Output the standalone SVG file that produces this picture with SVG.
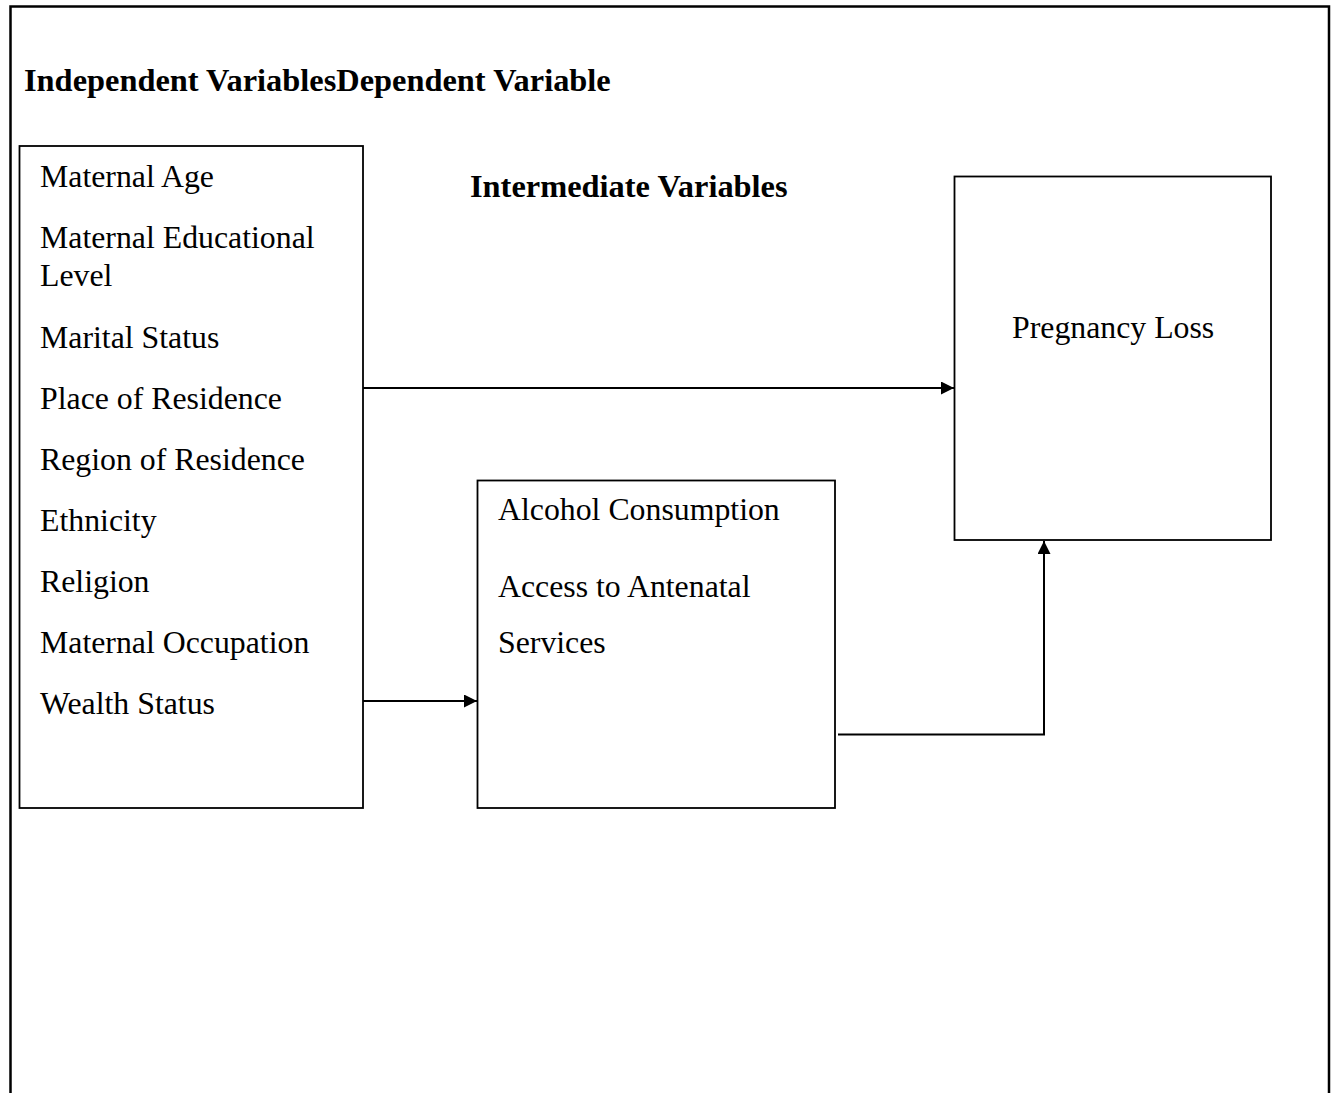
<svg xmlns="http://www.w3.org/2000/svg" width="1331" height="1093" viewBox="0 0 1331 1093">
<style>
text{font-family:"Liberation Serif","Times New Roman",serif;font-size:31.8px;fill:#000}
.b{font-weight:bold;font-size:32.4px}
.box{fill:#fff;stroke:#000;stroke-width:1.8}
.c{fill:none;stroke:#000;stroke-width:2}
</style>
<defs>
<marker id="ah" viewBox="0 0 10 10" refX="10" refY="5" markerWidth="15" markerHeight="13" markerUnits="userSpaceOnUse" orient="auto"><path d="M0,0 L10,5 L0,10 z" fill="#000"/></marker>
</defs>
<rect width="1331" height="1093" fill="#fff"/>
<path d="M10.5,1093 V6.5 H1329 V1093" fill="none" stroke="#000" stroke-width="2.5"/>
<text class="b" x="24" y="91">Independent VariablesDependent Variable</text>
<text class="b" x="470" y="197">Intermediate Variables</text>
<g id="independent">
<rect class="box" x="19.5" y="146" width="343.5" height="662"/>
<text x="40" y="187">Maternal Age</text>
<text x="40" y="248">Maternal Educational</text>
<text x="40" y="286">Level</text>
<text x="40" y="348">Marital Status</text>
<text x="40" y="409">Place of Residence</text>
<text x="40" y="470">Region of Residence</text>
<text x="40" y="531">Ethnicity</text>
<text x="40" y="592">Religion</text>
<text x="40" y="653">Maternal Occupation</text>
<text x="40" y="714">Wealth Status</text>
</g>
<g id="intermediate">
<rect class="box" x="477.5" y="480.5" width="357.5" height="327.5"/>
<text x="498" y="520">Alcohol Consumption</text>
<text x="498" y="597">Access to Antenatal</text>
<text x="498" y="653">Services</text>
</g>
<g id="dependent">
<rect class="box" x="954.5" y="176.5" width="316.5" height="363.5"/>
<text x="1012" y="338">Pregnancy Loss</text>
</g>
<g id="connectors">
<line class="c" x1="363" y1="388" x2="954" y2="388" marker-end="url(#ah)"/>
<line class="c" x1="363" y1="701" x2="477" y2="701" marker-end="url(#ah)"/>
<path class="c" d="M838,734.5 H1044 V541" marker-end="url(#ah)"/>
</g>
</svg>
